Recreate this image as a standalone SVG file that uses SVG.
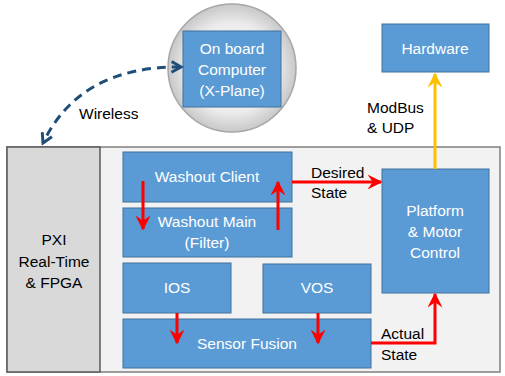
<svg xmlns="http://www.w3.org/2000/svg" width="505" height="376" viewBox="0 0 505 376">
<defs>
<radialGradient id="g" cx="50%" cy="50%" r="50%">
<stop offset="0" stop-color="#ffffff"/>
<stop offset="0.7" stop-color="#ececec"/>
<stop offset="1" stop-color="#c8c8c8"/>
</radialGradient>
<marker id="ar" viewBox="0 0 10 10" refX="9" refY="5" markerWidth="5" markerHeight="5" orient="auto" markerUnits="strokeWidth">
<path d="M0,0 L10,5 L0,10 L3.5,5 z" fill="#ff0000"/>
</marker>
<marker id="ay" viewBox="0 0 10 10" refX="9" refY="5" markerWidth="5" markerHeight="5" orient="auto" markerUnits="strokeWidth">
<path d="M0,0 L10,5 L0,10 L3.5,5 z" fill="#ffc000"/>
</marker>
<marker id="ab" viewBox="0 0 10 10" refX="8" refY="5" markerWidth="4.5" markerHeight="4.5" orient="auto" markerUnits="strokeWidth">
<path d="M1,1 L8,5 L1,9" fill="none" stroke="#1f4e79" stroke-width="2.2"/>
</marker>
<marker id="ab2" viewBox="0 0 10 10" refX="2" refY="5" markerWidth="4.5" markerHeight="4.5" orient="auto" markerUnits="strokeWidth">
<path d="M9,1 L2,5 L9,9" fill="none" stroke="#1f4e79" stroke-width="2.2"/>
</marker>
</defs>
<style>
.n{fill:#5b9bd5;stroke:#41719c;stroke-width:1}
.t{font-family:"Liberation Sans",Arial,sans-serif;font-size:15.5px;fill:#ffffff;text-anchor:middle}
.k{font-family:"Liberation Sans",Arial,sans-serif;font-size:15.5px;fill:#000000}
.r{fill:none;stroke:#ff0000;stroke-width:3;marker-end:url(#ar)}
</style>
<rect width="505" height="376" fill="#ffffff"/>
<g id="pxi-frame">
<rect x="7" y="147" width="493" height="225" fill="#f2f2f2" stroke="#7f7f7f" stroke-width="1.5"/>
<rect x="7" y="147" width="93" height="225" fill="#d9d9d9" stroke="#595959" stroke-width="1.5"/>
<text class="k" text-anchor="middle" x="54" y="245">PXI</text>
<text class="k" text-anchor="middle" x="54" y="267">Real-Time</text>
<text class="k" text-anchor="middle" x="54" y="288">&amp; FPGA</text>
</g>
<g id="onboard">
<circle cx="232" cy="68" r="64" fill="url(#g)" stroke="#a6a6a6" stroke-width="1.5"/>
<rect class="n" x="183" y="31" width="98" height="76"/>
<text class="t" x="232" y="54">On board</text>
<text class="t" x="232" y="75">Computer</text>
<text class="t" x="232" y="96">(X-Plane)</text>
</g>
<g id="hardware">
<rect class="n" x="382" y="24" width="107" height="48"/>
<text class="t" x="435" y="54">Hardware</text>
</g>
<g id="washout-client">
<rect class="n" x="123" y="152" width="169" height="50"/>
<text class="t" x="207" y="182">Washout Client</text>
</g>
<g id="washout-main">
<rect class="n" x="123" y="208" width="169" height="49"/>
<text class="t" x="207" y="227">Washout Main</text>
<text class="t" x="207" y="248">(Filter)</text>
</g>
<g id="ios">
<rect class="n" x="123" y="263" width="108" height="50"/>
<text class="t" x="177" y="293">IOS</text>
</g>
<g id="vos">
<rect class="n" x="263" y="264" width="108" height="49"/>
<text class="t" x="317" y="293">VOS</text>
</g>
<g id="sensor-fusion">
<rect class="n" x="123" y="319" width="248" height="49"/>
<text class="t" x="247" y="349">Sensor Fusion</text>
</g>
<g id="platform">
<rect class="n" x="382" y="169" width="107" height="124"/>
<text class="t" x="435" y="216">Platform</text>
<text class="t" x="435" y="237">&amp; Motor</text>
<text class="t" x="435" y="258">Control</text>
</g>
<g id="connectors">
<path d="M181,67 Q80,66 43,143" fill="none" stroke="#1f4e79" stroke-width="3" stroke-dasharray="9,6" marker-start="url(#ab2)" marker-end="url(#ab)"/>
<text class="k" x="79" y="119">Wireless</text>
<line x1="435" y1="169" x2="435" y2="74" stroke="#ffc000" stroke-width="3" marker-end="url(#ay)"/>
<text class="k" x="367" y="113">ModBus</text>
<text class="k" x="367" y="133">&amp; UDP</text>
<line class="r" x1="143" y1="181" x2="143" y2="229"/>
<line class="r" x1="278" y1="230" x2="278" y2="182"/>
<line class="r" x1="292" y1="182" x2="381" y2="182"/>
<text class="k" x="311" y="178">Desired</text>
<text class="k" x="311" y="198">State</text>
<line class="r" x1="177" y1="313" x2="177" y2="343"/>
<line class="r" x1="318" y1="313" x2="318" y2="343"/>
<path class="r" d="M371,343 L435,343 L435,294"/>
<text class="k" x="381" y="339">Actual</text>
<text class="k" x="381" y="360">State</text>
</g>
</svg>
